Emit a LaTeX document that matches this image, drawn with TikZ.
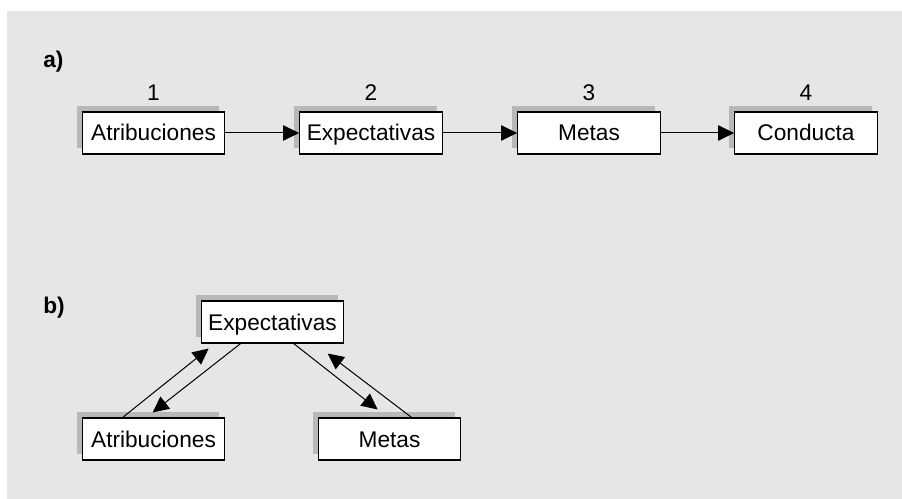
\documentclass[tikz,border=0pt]{standalone}
\usepackage{fontspec}
\setmainfont{Liberation Sans}
\usetikzlibrary{arrows.meta,shadows,calc}
\definecolor{bggray}{HTML}{E6E6E6}
\definecolor{shgray}{HTML}{B8B8B8}
\tikzset{
  box/.style={draw=black, line width=0.8pt, fill=white, minimum width=107pt, minimum height=31.5pt, inner sep=0pt,
    font=\fontsize{17}{20}\selectfont, text height=12pt, text depth=0pt,
    general shadow={fill=shgray, shadow xshift=-4.2pt, shadow yshift=4.2pt}},
  num/.style={font=\fontsize{17}{20}\selectfont, inner sep=0pt},
  lab/.style={font=\fontsize{17}{20}\selectfont\bfseries, inner sep=0pt, anchor=west},
  arr/.style={line width=0.75pt, -{Triangle[length=12pt,width=11.5pt]}}
}
\begin{document}
\begin{tikzpicture}[x=0.75pt,y=-0.75pt]
\useasboundingbox (0,0) rectangle (902,499);
\fill[bggray] (7,11) rectangle (902,499);
% part a
\node[lab] (la) at (43,62) {a)};
\node[box] (a1) at (153.5,133) {Atribuciones};
\node[box] (a2) at (371,133) {Expectativas};
\node[box] (a3) at (589,133) {Metas};
\node[box] (a4) at (806,133) {Conducta};
\node[num] (n1) at ($(a1.north)+(0,-19)$) {1};
\node[num] (n2) at ($(a2.north)+(0,-19)$) {2};
\node[num] (n3) at ($(a3.north)+(0,-19)$) {3};
\node[num] (n4) at ($(a4.north)+(0,-19)$) {4};
\draw[arr] (a1.east) -- (a2.west);
\draw[arr] (a2.east) -- (a3.west);
\draw[arr] (a3.east) -- (a4.west);
% part b
\node[lab] (lb) at (43,308) {b)};
\node[box] (be) at (272.5,322) {Expectativas};
\node[box] (ba) at (153.5,439) {Atribuciones};
\node[box] (bm) at (389.5,439) {Metas};
\draw[arr] ($(ba.north west)+(41,0)$) -- ($(be.south west)+(8,5)$);
\draw[arr] ($(be.south west)+(40,0)$) -- ($(ba.north west)+(71,-5)$);
\draw[arr] ($(be.south west)+(93,0)$) -- ($(bm.north west)+(60,-8)$);
\draw[arr] ($(bm.north west)+(94,0)$) -- ($(be.south west)+(127,10)$);
\end{tikzpicture}
\end{document}
